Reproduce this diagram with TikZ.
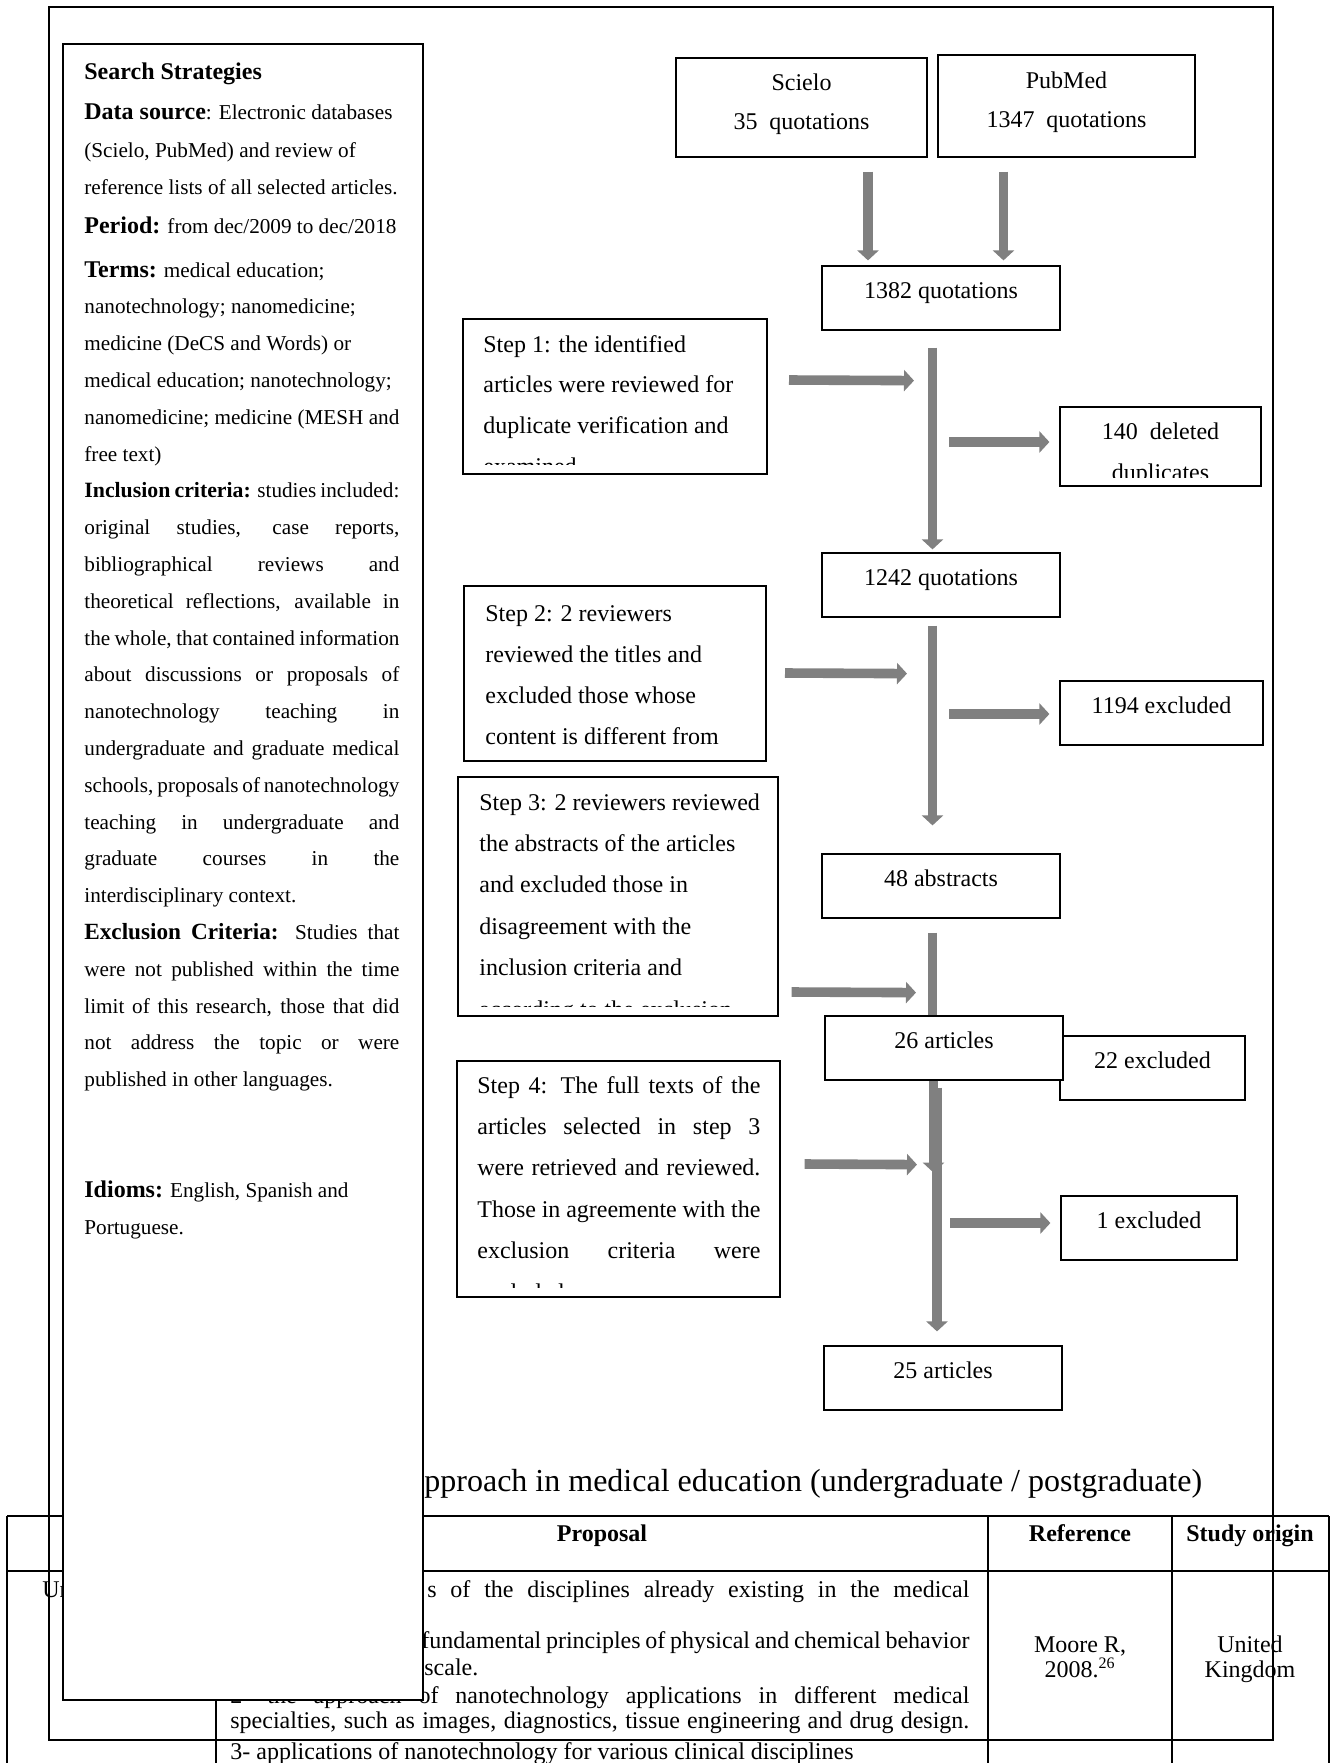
\documentclass[tikz,border=0pt]{standalone}
\usepackage{fontspec}
\setmainfont{Liberation Serif}
\usetikzlibrary{arrows.meta,calc}

\definecolor{arrowgray}{RGB}{128,128,128}
\newcommand{\ptwelve}{\fontsize{12}{14}\selectfont}
\newcommand{\lbl}[2][12]{{\fontsize{#1}{14}\selectfont\bfseries #2}}
\newcommand{\jl}[2][157.5pt]{{\spaceskip=.25em plus 3em minus .22em\relax\makebox[#1][s]{#2}}}

\begin{document}
\begin{tikzpicture}[x=0.5pt,y=-0.5pt,>={Triangle[length=5pt,width=10.5pt]},
                    font=\ptwelve]
  \tikzstyle{resbox}=[draw,line width=0.6pt,fill=white,inner sep=0pt,anchor=base,
                      text height=16pt,text depth=16pt,minimum width=119pt]
  \tikzstyle{srcbox}=[draw,line width=0.6pt,inner sep=0pt,align=center,
                      font=\fontsize{12}{19.5}\selectfont]
  \tikzstyle{stepbox}=[draw,line width=1pt,inner sep=0pt]
  \tikzstyle{txt}=[anchor=base west,inner sep=0pt]
  \tikzstyle{stxt}=[txt,font=\fontsize{10.6}{13}\selectfont]
  \tikzstyle{bigline}=[draw=arrowgray,line width=4.8pt]
  \tikzstyle{bigarrow}=[bigline,->]
  \tikzstyle{tabline}=[line width=1pt]

  \useasboundingbox (0,0) rectangle (1335,1763);

  % table under the figure
  \node[txt,font=\fontsize{16}{19}\selectfont] (cap) at (424,1491)
       {pproach in medical education (undergraduate / postgraduate)};
  \draw[tabline] (7,1516) -- (1329,1516) (7,1571) -- (1329,1571);
  \foreach \x in {7,216,988,1172,1329}
    \draw[tabline] (\x,1516) -- (\x,1763);
  \node[anchor=base,font=\ptwelve\bfseries] (hprop) at (602,1541) {Proposal};
  \node[anchor=base,font=\ptwelve\bfseries] (href)  at (1080,1541) {Reference};
  \node[anchor=base,font=\ptwelve\bfseries] (horig) at (1250,1541) {Study origin};
  \node[txt] (un) at (42,1597) {Un};
  \node[txt] (p1) at (427,1597) {\jl[271pt]{s of the disciplines already existing in the medical}};
  \node[txt] (p2) at (421,1648) {\jl[274pt]{fundamental principles of physical and chemical behavior}};
  \node[txt] (p3) at (424,1675) {scale.};
  \node[txt] (p4) at (230,1703) {\jl[369.5pt]{2- the approach of nanotechnology applications in different medical}};
  \node[txt] (p5) at (230,1728) {\jl[369.5pt]{specialties, such as images, diagnostics, tissue engineering and drug design.}};
  \node[txt] (p6) at (230,1759) {3- applications of nanotechnology for various clinical disciplines};
  \node[anchor=base] (ref1)  at (1080,1652) {Moore R,};
  \node[anchor=base] (ref2)  at (1080,1677) {2008.\textsuperscript{26}};
  \node[anchor=base] (orig1) at (1250,1652) {United};
  \node[anchor=base] (orig2) at (1250,1677) {Kingdom};

  % frame of the figure
  \draw[line width=0.9pt] (49,7) rectangle (1273,1740);

  % search strategies
  \node[stepbox,fill=white,minimum width=180pt,minimum height=828pt] (Search) at (243,872) {};
  \node[stxt] (ta) at (84,79)    {\lbl{Search Strategies}};
  \node[stxt] (tb) at (84,119.5) {\lbl{Data source}: Electronic databases};
  \node[stxt] (tc) at (84,157)   {(Scielo, PubMed) and review of};
  \node[stxt] (td) at (84,194)   {reference lists of all selected articles.};
  \node[stxt] (te) at (84,233)   {\lbl{Period:} from dec/2009 to dec/2018};
  \foreach \txt [count=\n from 0] in {
      {\lbl{Terms:} medical education;},
      {nanotechnology; nanomedicine;},
      {medicine (DeCS and Words) or},
      {medical education; nanotechnology;},
      {nanomedicine; medicine (MESH and},
      {free text)},
      {\jl{\lbl[10.9]{Inclusion criteria:} studies included:}},
      {\jl{original studies, case reports,}},
      {\jl{bibliographical reviews and}},
      {\jl{theoretical reflections, available in}},
      {\jl{the whole, that contained information}},
      {\jl{about discussions or proposals of}},
      {\jl{nanotechnology teaching in}},
      {\jl{undergraduate and graduate medical}},
      {\jl{schools, proposals of nanotechnology}},
      {\jl{teaching in undergraduate and}},
      {\jl{graduate courses in the}},
      {interdisciplinary context.},
      {\jl{\lbl[11.6]{Exclusion Criteria:} Studies that}},
      {\jl{were not published within the time}},
      {\jl{limit of this research, those that did}},
      {\jl{not address the topic or were}},
      {published in other languages.}}
    \node[stxt] (t\n) at (84,{277+36.8*\n}) {\txt};
  \node[stxt] (tf) at (84,1197) {\lbl{Idioms:} English, Spanish and};
  \node[stxt] (tg) at (84,1234) {Portuguese.};

  % flow chart
  \node[srcbox,minimum width=125.5pt,minimum height=49.5pt] (Sc) at (801.5,107.5)
       {Scielo\\35\ \ quotations\rule[-6pt]{0pt}{0pt}};
  \node[srcbox,minimum width=128.5pt,minimum height=51pt]   (Pm) at (1066.5,106)
       {PubMed\\1347\ \ quotations\rule[-6pt]{0pt}{0pt}};
  \node[resbox] (Q1)  at (941,298)  {1382 quotations};
  \node[resbox] (Q2)  at (941,585)  {1242 quotations};
  \node[resbox] (A48) at (941,886)  {48 abstracts};
  \node[resbox,minimum width=92.5pt] (E22) at (1152.5,1068) {22 excluded};
  \node[resbox] (A26) at (944,1048) {26 articles};
  \node[resbox] (A25) at (943,1378) {25 articles};
  \node[resbox,minimum width=100.5pt,text depth=23.5pt] (D140) at (1160.5,439) {140\ \ deleted};
  \node[resbox,minimum width=101.5pt] (E1194) at (1161.5,713) {1194 excluded};
  \node[resbox,minimum width=88pt] (E1) at (1149,1228) {1 excluded};
  \begin{scope}
    \clip (D140.north west) rectangle ([yshift=4.5pt]D140.south east);
    \node[anchor=base,inner sep=0pt] (D140b) at (1160.5,480) {duplicates};
  \end{scope}

  \node[stepbox,minimum width=152pt,minimum height=77.5pt]  (S1) at (615,396.5) {};
  \node[stepbox,minimum width=151pt,minimum height=87.5pt]  (S2) at (615,673.5) {};
  \node[stepbox,minimum width=160pt,minimum height=119.5pt] (S3) at (618,896.5) {};
  \node[stepbox,minimum width=161.5pt,minimum height=118pt] (S4) at (618.5,1179) {};
  \begin{scope}
    \clip (S1.north west) rectangle ([yshift=5.5pt]S1.south east);
    \foreach \txt [count=\n from 0] in {{Step 1: the identified},{articles were reviewed for},
        {duplicate verification and},{examined}}
      \node[txt] (s1\n) at (483,{352+40.8*\n}) {\txt};
  \end{scope}
  \foreach \txt [count=\n from 0] in {{Step 2: 2 reviewers},{reviewed the titles and},
      {excluded those whose},{content is different from}}
    \node[txt] (s2\n) at (485,{621+41*\n}) {\txt};
  \begin{scope}
    \clip (S3.north west) rectangle ([yshift=5.5pt]S3.south east);
    \foreach \txt [count=\n from 0] in {{Step 3: 2 reviewers reviewed},{the abstracts of the articles},
        {and excluded those in},{disagreement with the},{inclusion criteria and},
        {according to the exclusion}}
      \node[txt] (s3\n) at (479,{810+41.4*\n}) {\txt};
  \end{scope}
  \begin{scope}
    \clip (S4.north west) rectangle ([yshift=5.5pt]S4.south east);
    \foreach \txt [count=\n from 0] in {{\jl[141.5pt]{Step 4: The full texts of the}},
        {\jl[141.5pt]{articles selected in step 3}},{\jl[141.5pt]{were retrieved and reviewed.}},
        {\jl[141.5pt]{Those in agreemente with the}},{\jl[141.5pt]{exclusion criteria were}},
        {excluded.}}
      \node[txt] (s4\n) at (477,{1093+41.4*\n}) {\txt};
  \end{scope}

  % gray block arrows
  \draw[bigarrow] ($(Sc.south)+(66.5,14)$)  -- ($(Q1.north)+(-73,-5)$);
  \draw[bigarrow] ($(Pm.south)+(-63,14)$)   -- ($(Q1.north)+(62.5,-5)$);
  \draw[bigarrow] ($(Q1.south)+(-8.5,17)$)  -- ($(Q2.north)+(-8.5,-3)$);
  \draw[bigarrow] ($(S1.east)+(21,-16.5)$)  -- ($(Q1.south)+(-27,50)$);
  \draw[bigarrow] ($(D140.west)+(-110,-4.5)$) -- ($(D140.west)+(-10,-4.5)$);
  \draw[bigarrow] ($(Q2.south)+(-8.5,8)$)   -- ($(A48.north)+(-8.5,-28)$);
  \draw[bigarrow] ($(S2.east)+(18,-0.5)$)   -- ($(Q2.south)+(-34,56)$);
  \draw[bigarrow] ($(E1194.west)+(-110,1)$) -- ($(E1194.west)+(-10,1)$);
  \draw[bigline]  ($(A48.south)+(-8.5,14)$) -- ($(A26.north)+(-11.5,0)$);
  \draw[bigarrow] ($(S3.east)+(12.6,95.5)$) -- ($(A48.south)+(-25,74)$);
  \draw[bigarrow] ($(A26.south)+(-10.5,0)$) -- ($(A26.south)+(-10.5,92)$);
  \draw[bigarrow] ($(A26.south)+(-7,7)$)    -- ($(A25.north)+(-6,-14)$);
  \draw[bigarrow] ($(S4.east)+(23.6,-15)$)  -- ($(A26.south)+(-27,84)$);
  \draw[bigarrow] ($(E1.west)+(-110,-5)$)   -- ($(E1.west)+(-10,-5)$);
\end{tikzpicture}
\end{document}
